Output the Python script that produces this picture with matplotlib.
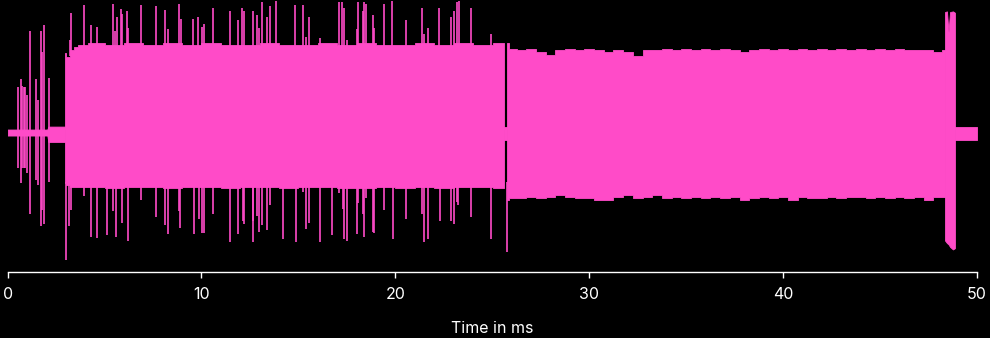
"""
Waveform overview: quiet band, two long bursts, short burst at the end.
"""
import matplotlib
matplotlib.use("Agg")
import matplotlib.pyplot as plt

PINK = '#ff4bc8'

# quiet base band (ms, amplitude)
quiet_t   = [0.0, 2.05, 2.10, 2.96]
quiet_top = [0.027, 0.027, 0.05, 0.05]
quiet_bot = [-0.02, -0.02, -0.07, -0.07]
gap_t     = [25.60, 25.76]
gap_top   = [0.05, 0.05]
gap_bot   = [-0.055, -0.055]
tail_t    = [48.86, 50.0]
tail_top  = [0.047, 0.047]
tail_bot  = [-0.055, -0.055]

# short spikes before the first burst
pre_t   = [0.55, 0.69, 0.76, 0.83, 0.91, 1.02, 1.14, 1.48, 1.55, 1.74, 1.79, 1.86, 2.15]
pre_top = [0.36, 0.42, 0.37, 0.36, 0.36, 0.30, 0.80, 0.42, 0.26, 0.80, 0.63, 0.84, 0.43]
pre_bot = [-0.27, -0.39, -0.27, -0.27, -0.27, -0.31, -0.63, -0.37, -0.41, -0.73, -0.60, -0.71, -0.38]

# burst 1 envelope
b1_t   = [2.96, 3.10, 3.30, 3.50, 3.75, 4.5, 5.5, 6.5, 7.5, 8.5, 9.5, 10.5, 11.5, 12.5,
          13.5, 14.5, 15.5, 16.5, 17.5, 18.5, 19.5, 20.5, 21.5, 22.5, 23.5, 24.5, 25.60]
b1_top = [0.625, 0.59, 0.65, 0.67, 0.69, 0.70, 0.69, 0.70, 0.69, 0.70, 0.69, 0.70, 0.69, 0.69,
          0.70, 0.69, 0.69, 0.70, 0.69, 0.70, 0.69, 0.69, 0.70, 0.69, 0.70, 0.69, 0.70]
b1_bot = [-0.39, -0.41, -0.42, -0.42, -0.42, -0.42, -0.43, -0.42, -0.42, -0.43, -0.42, -0.42, -0.43,
          -0.42, -0.42, -0.43, -0.42, -0.42, -0.43, -0.43, -0.42, -0.43, -0.42, -0.43, -0.42, -0.42, -0.43]

# burst 1 spikes above / below
up_t = [3.20, 3.25, 3.96, 4.30, 4.63, 5.42, 5.55, 5.64, 5.86, 5.92, 6.17, 6.23, 6.87, 7.65,
        8.10, 8.26, 8.86, 8.93, 9.58, 9.84, 10.01, 10.13, 10.61, 11.46, 11.87, 12.11, 12.19,
        12.64, 12.85, 12.98, 13.11, 13.39, 13.55, 13.84, 14.84, 15.22, 15.38, 15.53, 16.11,
        17.08, 17.26, 17.34, 17.52, 18.01, 18.06, 18.32, 18.38, 18.49, 18.83, 18.90, 19.43,
        19.84, 20.53, 21.37, 21.49, 21.67, 22.27, 22.85, 23.01, 23.16, 23.27, 23.89, 24.92]
up_a = [0.73, 0.94, 1.00, 0.84, 0.83, 1.01, 0.80, 0.91, 0.97, 0.93, 0.95, 0.82, 1.00, 0.99,
        0.96, 0.81, 1.01, 0.89, 0.89, 0.91, 0.83, 0.85, 0.98, 0.95, 0.88, 0.98, 0.95,
        0.95, 0.92, 0.82, 1.02, 0.91, 0.99, 1.03, 1.00, 1.00, 0.75, 0.91, 0.74,
        1.02, 1.02, 0.98, 0.73, 0.81, 1.02, 0.95, 1.02, 1.01, 0.92, 0.82, 1.01,
        1.03, 0.88, 0.98, 0.77, 0.82, 0.98, 0.91, 0.95, 1.02, 1.03, 0.98, 0.77]
dn_t = [3.00, 3.18, 3.25, 3.96, 4.30, 4.63, 5.14, 5.42, 5.59, 5.88, 6.23, 6.87, 7.65, 8.10,
        8.26, 8.84, 8.91, 9.61, 9.86, 10.01, 10.13, 10.61, 11.46, 11.88, 12.13, 12.19, 12.64,
        12.67, 12.85, 12.98, 13.11, 13.39, 13.55, 14.22, 14.86, 15.22, 15.38, 15.55, 16.11,
        16.73, 17.11, 17.28, 17.34, 17.52, 18.01, 18.06, 18.32, 18.40, 18.49, 18.83, 18.91,
        19.43, 19.86, 20.53, 21.37, 21.47, 21.67, 22.29, 22.85, 23.01, 23.16, 23.25, 23.89,
        24.92, 25.76]
dn_a = [-0.99, -0.73, -0.60, -0.49, -0.81, -0.82, -0.80, -0.61, -0.81, -0.70, -0.84, -0.52, -0.66, -0.72,
        -0.79, -0.61, -0.74, -0.79, -0.67, -0.78, -0.78, -0.63, -0.85, -0.79, -0.69, -0.71, -0.69,
        -0.85, -0.65, -0.77, -0.72, -0.76, -0.56, -0.83, -0.85, -0.46, -0.75, -0.70, -0.85,
        -0.80, -0.47, -0.59, -0.83, -0.84, -0.79, -0.55, -0.63, -0.81, -0.51, -0.77, -0.78,
        -0.60, -0.83, -0.67, -0.63, -0.85, -0.83, -0.69, -0.69, -0.71, -0.54, -0.56, -0.66,
        -0.83, -0.93]

# burst 2 envelope
b2_t   = [25.76, 26.0, 26.5, 27.0, 27.5, 28.0, 28.5, 29.0, 29.5, 30.0, 30.5, 31.0, 31.5, 32.0,
          32.5, 33.0, 33.5, 34.0, 34.5, 35.0, 35.5, 36.0, 36.5, 37.0, 37.5, 38.0, 38.5, 39.0,
          39.5, 40.0, 40.5, 41.0, 41.5, 42.0, 42.5, 43.0, 43.5, 44.0, 44.5, 45.0, 45.5, 46.0,
          46.5, 47.0, 47.5, 48.0, 48.35]
b2_top = [0.70, 0.66, 0.65, 0.66, 0.635, 0.61, 0.65, 0.66, 0.65, 0.66, 0.65, 0.635, 0.65, 0.635,
          0.60, 0.65, 0.65, 0.66, 0.65, 0.66, 0.65, 0.66, 0.65, 0.66, 0.65, 0.635, 0.65, 0.66,
          0.65, 0.66, 0.65, 0.66, 0.65, 0.66, 0.65, 0.66, 0.65, 0.66, 0.65, 0.66, 0.65, 0.66,
          0.65, 0.65, 0.65, 0.635, 0.65]
b2_bot = [-0.52, -0.51, -0.51, -0.50, -0.51, -0.50, -0.484, -0.50, -0.51, -0.51, -0.52, -0.52, -0.50, -0.484,
          -0.51, -0.50, -0.484, -0.51, -0.50, -0.51, -0.50, -0.51, -0.50, -0.51, -0.50, -0.52, -0.51, -0.50,
          -0.51, -0.50, -0.52, -0.50, -0.51, -0.51, -0.50, -0.51, -0.50, -0.50, -0.51, -0.50, -0.51, -0.50,
          -0.51, -0.50, -0.52, -0.50, -0.50]

# short burst at the end
b3_t   = [48.35, 48.45, 48.53, 48.61, 48.76, 48.86]
b3_top = [0.945, 0.95, 0.79, 0.945, 0.95, 0.94]
b3_bot = [-0.84, -0.86, -0.87, -0.89, -0.91, -0.90]

xticks = [0, 10, 20, 30, 40, 50]

plt.rcParams['font.family'] = ['Inter', 'DejaVu Sans']

fig = plt.figure(figsize=(9.9, 3.38), dpi=100, facecolor='black')
ax = fig.add_axes([0.00768, 0.1953, 0.9792, 0.8047], facecolor='black')

# flat bands first, then the bursts with a stepped (ragged) edge
for t, top, bot in [(quiet_t, quiet_top, quiet_bot), (gap_t, gap_top, gap_bot),
                    (tail_t, tail_top, tail_bot), (b3_t, b3_top, b3_bot)]:
    ax.fill_between(t, bot, top, color=PINK, lw=0.6, edgecolor=PINK)
for t, top, bot in [(b1_t, b1_top, b1_bot), (b2_t, b2_top, b2_bot)]:
    ax.fill_between(t, bot, top, color=PINK, lw=0.6, edgecolor=PINK, step='mid')

ax.vlines(pre_t, pre_bot, pre_top, color=PINK, lw=1.2)
ax.vlines(up_t, 0.6, up_a, color=PINK, lw=1.2)
ax.vlines(dn_t, dn_a, -0.38, color=PINK, lw=1.2)

ax.set_xlim(0, 50)
ax.set_ylim(-1.086, 1.039)
for s in ['top', 'left', 'right']:
    ax.spines[s].set_visible(False)
ax.spines['bottom'].set_color('white')
ax.spines['bottom'].set_linewidth(1.0)
ax.set_yticks([])
ax.set_xticks(xticks)
ax.tick_params(axis='x', colors='white', length=4, width=1.0, pad=6.5, labelsize=11.5)
ax.set_xlabel('Time in ms', color='white', fontsize=11.5, labelpad=14)

fig.savefig('out.png', dpi=100, facecolor='black')
